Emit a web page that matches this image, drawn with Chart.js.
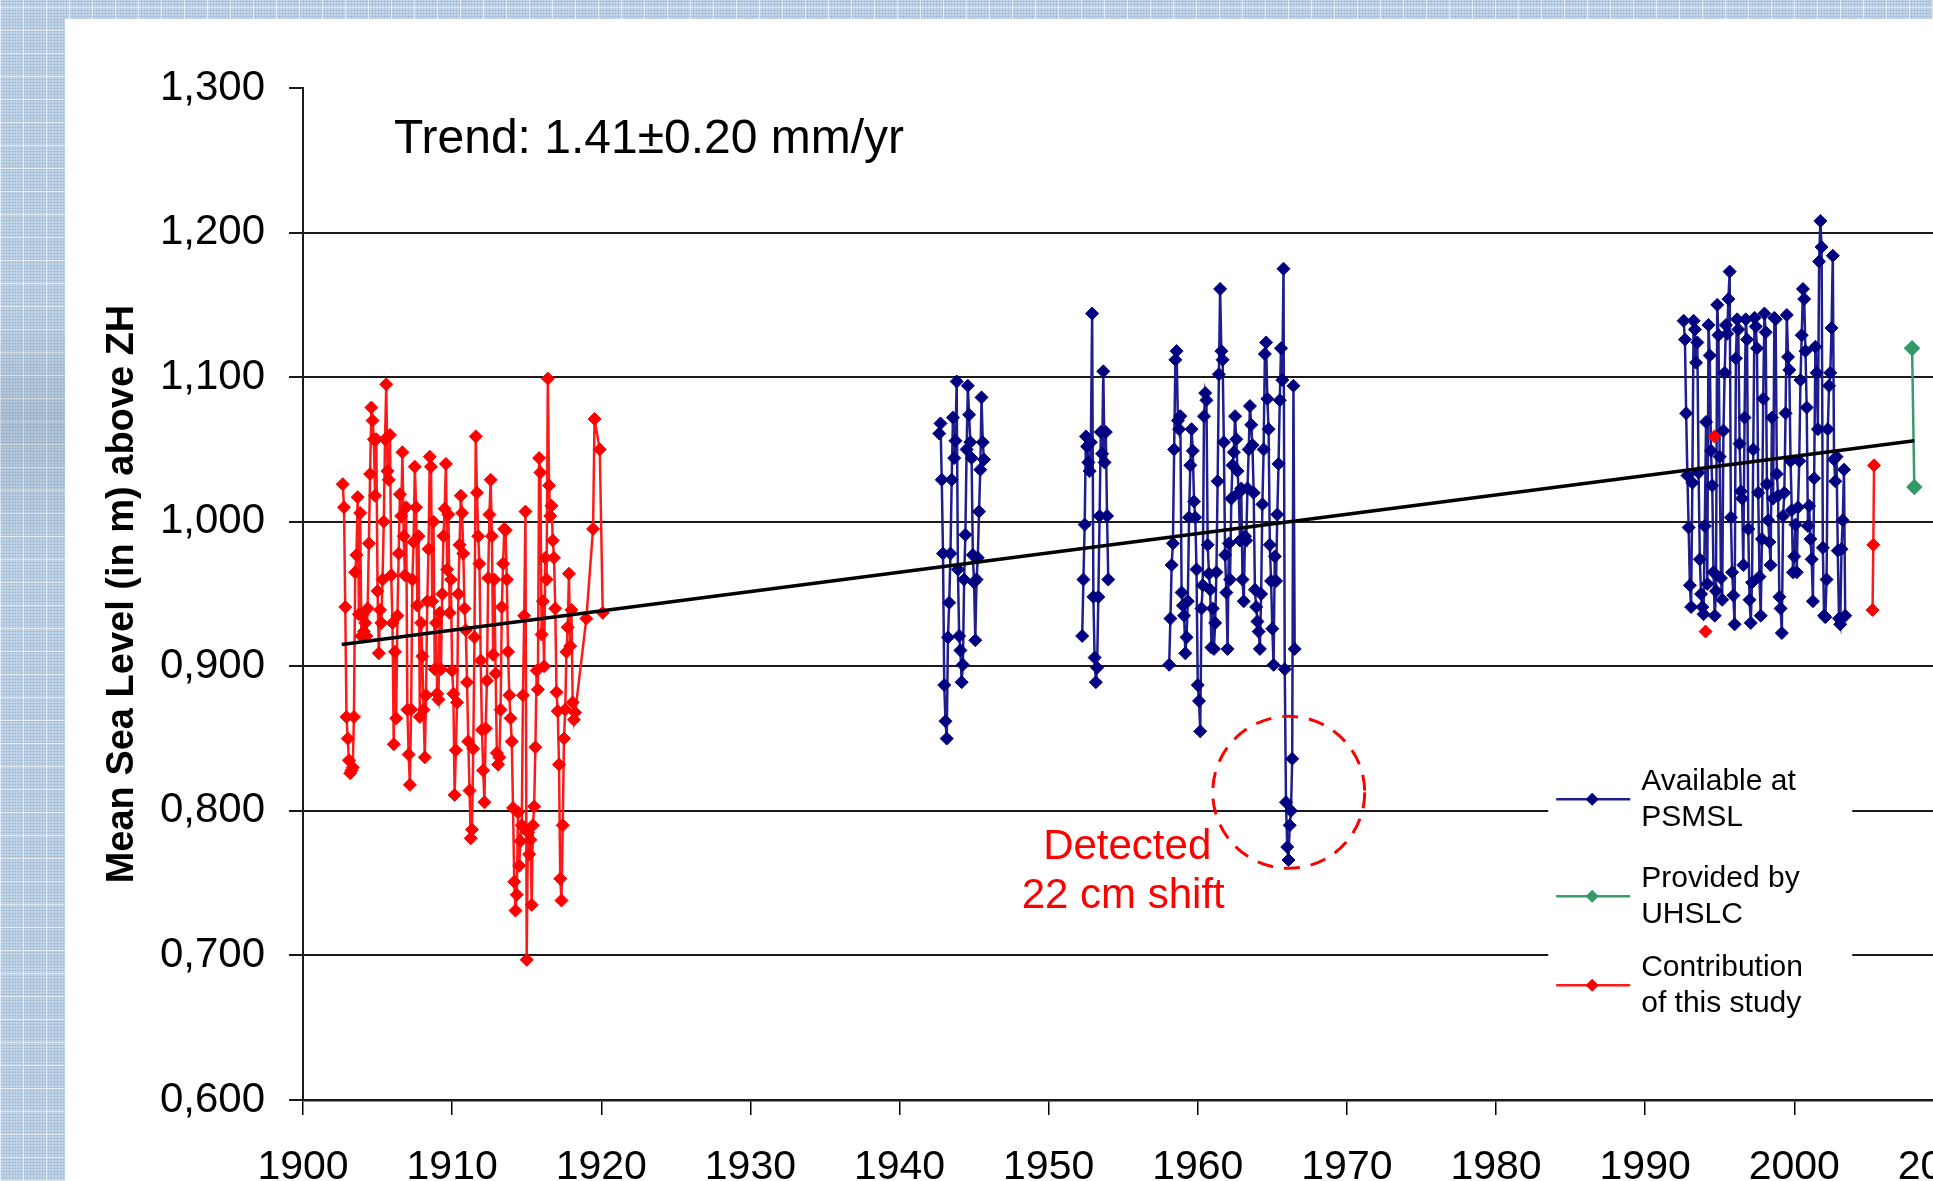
<!DOCTYPE html>
<html>
<head>
<meta charset="utf-8">
<title>Mean Sea Level above ZH</title>
<script src="https://cdn.jsdelivr.net/npm/chart.js@4.4.1/dist/chart.umd.min.js"></script>
<style>
  html, body { margin: 0; padding: 0; }
  body {
    width: 1933px; height: 1181px; overflow: hidden; position: relative;
    background-color: #c2d6e9;
    background-image:
      linear-gradient(180deg, rgba(0,0,0,0) 300px, rgba(110,130,150,0.22) 420px, rgba(0,0,0,0) 560px),
      repeating-linear-gradient(90deg, rgba(255,255,255,0.6) 0 1px, rgba(0,0,0,0) 1px 23px),
      repeating-linear-gradient(0deg, rgba(255,255,255,0.6) 0 1px, rgba(0,0,0,0) 1px 23px),
      repeating-linear-gradient(90deg, rgba(90,120,160,0.16) 0 1px, rgba(0,0,0,0) 1px 3px),
      repeating-linear-gradient(0deg, rgba(90,120,160,0.16) 0 1px, rgba(0,0,0,0) 1px 3px);
  }
  #panel { position: absolute; left: 65px; top: 19px; right: 0; bottom: 0; background: #fff; }
  #chart { position: absolute; left: 0; top: 0; }
</style>
</head>
<body>
<div id="panel"></div>
<canvas id="chart" width="2017" height="1181"></canvas>
<script>
// monthly values, in m above ZH
const redAStart = 1902 + 8 / 12; // Sep 1902
const redA = [
  1.026, 1.010, 0.941, 0.865,
  0.850, 0.835, 0.826, 0.828, 0.830, 0.865, 0.965, 0.977, 1.017, 0.936, 1.006, 0.921,
  0.936, 0.924, 0.930, 0.921, 0.940, 0.985, 1.033, 1.079, 1.070, 1.057, 1.018, 1.057,
  0.952, 0.909, 0.939, 0.930, 0.960, 1.000, 1.057, 1.095, 1.035, 1.029, 1.060, 0.963,
  0.930, 0.846, 0.910, 0.864, 0.935, 0.978, 1.019, 1.004, 1.048, 0.990, 0.963, 1.010,
  0.870, 0.839, 0.818, 0.870, 0.960, 0.986, 1.038, 1.010, 0.942, 0.990, 0.865, 0.930,
  0.907, 0.870, 0.837, 0.880, 0.945, 0.981, 1.045, 1.038, 0.945, 1.000, 0.898, 0.930,
  0.881, 0.877, 0.937, 0.898, 0.950, 0.990, 1.009, 1.040, 0.967, 1.005, 0.937, 0.960,
  0.897, 0.881, 0.811, 0.842, 0.875, 0.950, 0.984, 1.018, 1.006, 0.978, 0.940, 0.925,
  0.889, 0.848, 0.814, 0.781, 0.787, 0.843, 0.920, 1.059, 1.020, 0.990, 0.971, 0.904,
  0.856, 0.828, 0.806, 0.857, 0.890, 0.961, 1.005, 1.029, 0.990, 0.908, 0.960, 0.895,
  0.840, 0.832, 0.837, 0.870, 0.941, 0.971, 0.995, 0.994, 0.960, 0.910, 0.880, 0.864,
  0.848, 0.802, 0.751, 0.731, 0.742, 0.799, 0.762, 0.779, 0.790, 0.880, 0.935, 1.007,
  0.697, 0.785, 0.770, 0.780, 0.735, 0.790, 0.803, 0.844, 0.897, 0.884, 1.044, 1.034,
  0.922, 0.945, 0.900, 0.975, 0.960, 1.099, 1.025, 1.004, 1.011, 0.987, 0.975, 0.940,
  0.882, 0.869, 0.832, 0.753, 0.738, 0.790, 0.850, 0.870, 0.910, 0.927, 0.964, 0.914,
  0.939, 0.875, 0.863, 0.868
];
const redBYears = [1919.0, 1919.45, 1919.55, 1919.9, 1920.1];
const redB = [0.933, 0.995, 1.071, 1.050, 0.937];
const red1994Years = [1994.05, 1994.65];
const red1994 = [0.924, 1.059];
const red2005Years = [2005.25, 2005.3, 2005.35];
const red2005 = [0.939, 0.984, 1.039];

const blueAStart = 1942 + 8 / 12; // Sep 1942
const blueA = [
  1.061, 1.068, 1.029, 0.978,
  0.887, 0.862, 0.850, 0.920, 0.944, 0.978, 1.029, 1.072, 1.044, 1.056, 1.097, 0.967,
  0.921, 0.911, 0.889, 0.901, 0.960, 0.991, 1.050, 1.094, 1.074, 1.055, 1.044, 0.977,
  0.958, 0.918, 0.960, 0.975, 1.007, 1.036, 1.086, 1.055, 1.043
];
const blueBStart = 1952 + 3 / 12; // Apr 1952
const blueB = [
  0.921, 0.960, 0.998, 1.059, 1.052, 1.041, 1.035, 1.055, 1.144,
  0.948, 0.906, 0.889, 0.899, 0.948, 1.004, 1.062, 1.047, 1.104, 1.041, 1.062, 1.004,
  0.960
];
const blueCStart = 1958 + 1 / 12; // Feb 1958
const blueC = [
  0.901, 0.933, 0.970, 0.985, 1.050, 1.112, 1.118, 1.070, 1.064, 1.073, 0.951,
  0.942, 0.935, 0.909, 0.920, 0.945, 1.003, 1.039, 1.064, 1.049, 1.014, 1.003, 0.967,
  0.887, 0.876, 0.855, 0.940, 0.956, 1.073, 1.089, 1.084, 0.984, 0.964, 0.953, 0.913,
  0.940, 0.912, 0.930, 0.965, 1.028, 1.102, 1.161, 1.118, 1.112, 1.055, 0.977, 0.951,
  0.912, 0.985, 0.960, 1.016, 1.039, 1.048, 1.073, 1.057, 1.035, 1.020, 0.987, 1.023,
  0.960, 0.945, 0.990, 0.987, 1.023, 1.050, 1.080, 1.067, 1.053, 1.020, 0.953, 0.941,
  0.931, 0.924, 0.912, 0.950, 1.012, 1.050, 1.116, 1.124, 1.085, 1.064, 0.984, 0.959,
  0.926, 0.901, 0.976, 0.959, 1.005, 1.040, 1.084, 1.120, 1.098, 1.175, 0.898, 0.806,
  0.775, 0.766, 0.790, 0.800, 0.836, 1.094, 0.912
];
const blueDStart = 1992 + 7 / 12; // Aug 1992
const blueD = [
  1.139, 1.126, 1.075, 1.032, 0.996,
  0.956, 0.941, 1.027, 1.139, 1.133, 1.110, 1.124, 1.034, 0.974, 0.950, 0.941, 0.936,
  0.997, 1.069, 0.957, 1.136, 1.115, 1.049, 1.025, 0.965, 0.935, 0.952, 1.150, 1.129,
  1.045, 0.961, 0.946, 1.063, 1.103, 1.136, 1.130, 1.154, 1.173, 1.003, 0.965, 0.949,
  0.929, 1.113, 1.140, 1.133, 1.054, 1.021, 1.016, 0.970, 1.072, 1.140, 1.126, 0.995,
  0.946, 0.930, 0.958, 1.050, 1.141, 1.135, 1.120, 1.020, 0.962, 0.935, 0.988, 1.085,
  1.144, 1.131, 1.026, 1.001, 0.986, 0.970, 1.072, 1.016, 1.141, 1.140, 1.033, 1.018,
  0.948, 0.940, 0.923, 1.004, 1.020, 1.075, 1.143, 1.114, 1.105, 1.042, 1.008, 0.965,
  0.976, 0.998, 0.965, 1.010, 1.042, 1.098, 1.129, 1.161, 1.154, 1.118, 1.079, 0.997,
  1.011, 0.988, 0.974, 0.945, 1.030, 1.121, 1.103, 1.064, 1.180, 1.208, 1.190, 0.982,
  0.935, 0.934, 0.960, 1.064, 1.094, 1.103, 1.134, 1.184, 1.043, 1.028, 1.045, 0.980,
  0.933, 0.929, 0.981, 1.001, 1.036, 0.935
];

const greenYears = [2007.9, 2008.05];
const green = [1.120, 1.024];

const trendYears = [1902.6, 2008.05];
const trend = [0.915, 1.056];

const trendLabel = 'Trend: 1.41\u00b10.20 mm/yr';
const shiftLabel = ['Detected', '22 cm shift'];
const legendBlue = ['Available at', 'PSMSL'];
const legendGreen = ['Provided by', 'UHSLC'];
const legendRed = ['Contribution', 'of this study'];

const FONT = '"Liberation Sans", Arial, Helvetica, sans-serif';
Chart.defaults.font.family = FONT;
Chart.defaults.color = '#000';

function monthly(start, values) {
  return values.map((v, i) => ({ x: start + i / 12, y: v }));
}
function pairs(xs, ys) {
  return xs.map((x, i) => ({ x: x, y: ys[i] }));
}
// joins segments, breaking the line between them
function withGaps(...segs) {
  const out = [];
  segs.forEach((s, i) => {
    if (i > 0) out.push({ x: (out[out.length - 1].x + s[0].x) / 2, y: null });
    out.push(...s);
  });
  return out;
}

const redData = withGaps(
  monthly(redAStart, redA).concat(pairs(redBYears, redB)),
  pairs(red1994Years.slice(0, 1), red1994.slice(0, 1)),
  pairs(red1994Years.slice(1), red1994.slice(1)),
  pairs(red2005Years, red2005)
);
const blueData = withGaps(
  monthly(blueAStart, blueA),
  monthly(blueBStart, blueB),
  monthly(blueCStart, blueC),
  monthly(blueDStart, blueD)
);

const overlay = {
  id: 'overlay',
  afterDraw(chart) {
    const { ctx, scales: { x, y } } = chart;
    ctx.save();
    // trend text
    ctx.fillStyle = '#000';
    ctx.font = '48px ' + FONT;
    ctx.textAlign = 'left';
    ctx.textBaseline = 'alphabetic';
    ctx.fillText(trendLabel, x.getPixelForValue(1906.1), y.getPixelForValue(1.255));

    // shift note + circle
    ctx.fillStyle = '#ff0000';
    ctx.font = '42px ' + FONT;
    ctx.textAlign = 'center';
    const cx = x.getPixelForValue(1955.0);
    ctx.fillText(shiftLabel[0], cx + 4, y.getPixelForValue(0.767));
    ctx.fillText(shiftLabel[1], cx, y.getPixelForValue(0.733));
    ctx.strokeStyle = '#ff0000';
    ctx.lineWidth = 3;
    ctx.setLineDash([16, 11]);
    ctx.beginPath();
    ctx.arc(x.getPixelForValue(1966.1), y.getPixelForValue(0.8128), 76, 0, Math.PI * 2);
    ctx.stroke();
    ctx.setLineDash([]);

    // legend
    const lx = x.getPixelForValue(1983.5), ly = y.getPixelForValue(0.837);
    ctx.fillStyle = '#fff';
    ctx.fillRect(lx, ly, 304, 275);
    const rows = [42, 139, 228];
    chart.data.datasets.filter(d => d.legendText).forEach((d, i) => {
      const ry = ly + rows[i];
      ctx.strokeStyle = d.borderColor;
      ctx.lineWidth = 2.5;
      ctx.beginPath();
      ctx.moveTo(lx + 8, ry);
      ctx.lineTo(lx + 82, ry);
      ctx.stroke();
      ctx.fillStyle = d.pointBackgroundColor;
      ctx.beginPath();
      ctx.moveTo(lx + 44, ry - 6.5);
      ctx.lineTo(lx + 50.5, ry);
      ctx.lineTo(lx + 44, ry + 6.5);
      ctx.lineTo(lx + 37.5, ry);
      ctx.closePath();
      ctx.fill();
      ctx.fillStyle = '#000';
      ctx.font = '30px ' + FONT;
      ctx.textAlign = 'left';
      ctx.textBaseline = 'middle';
      ctx.fillText(d.legendText[0], lx + 93, ry - 18);
      ctx.fillText(d.legendText[1], lx + 93, ry + 18);
    });
    ctx.restore();
  }
};

new Chart(document.getElementById('chart'), {
  type: 'line',
  data: {
    datasets: [
      {
        label: 'Trend',
        data: pairs(trendYears, trend),
        borderColor: '#000',
        borderWidth: 3.5,
        pointRadius: 0,
        order: 0
      },
      {
        label: 'Contribution of this study',
        legendText: legendRed,
        data: redData,
        borderColor: '#ff1a1a',
        borderWidth: 2.5,
        pointStyle: 'rectRot',
        pointRadius: 6.5,
        pointBackgroundColor: '#ff0000',
        pointBorderColor: '#ff0000',
        pointBorderWidth: 1,
        spanGaps: false,
        order: 1
      },
      {
        label: 'Provided by UHSLC',
        legendText: legendGreen,
        data: pairs(greenYears, green),
        borderColor: '#3a9a6a',
        borderWidth: 2.5,
        pointStyle: 'rectRot',
        pointRadius: 6.5,
        pointBackgroundColor: '#339966',
        pointBorderColor: '#339966',
        order: 2
      },
      {
        label: 'Available at PSMSL',
        legendText: legendBlue,
        data: blueData,
        borderColor: '#1e1e8e',
        borderWidth: 2.5,
        pointStyle: 'rectRot',
        pointRadius: 6.5,
        pointBackgroundColor: '#000080',
        pointBorderColor: '#000080',
        pointBorderWidth: 1,
        spanGaps: false,
        order: 3
      }
    ].sort((a, b) => (a.legendText ? 0 : 1) - (b.legendText ? 0 : 1)).reverse()
  },
  options: {
    responsive: false,
    animation: false,
    events: [],
    layout: { padding: { left: 0, top: 88, right: 58, bottom: 0 } },
    plugins: { legend: { display: false }, tooltip: { enabled: false } },
    scales: {
      x: {
        type: 'linear',
        min: 1900,
        max: 2010,
        afterFit: s => { s.height = 81; },
        ticks: { stepSize: 10, padding: 28, font: { size: 41 }, color: '#000', maxRotation: 0,
          callback: v => v.toFixed(0) },
        grid: { drawOnChartArea: false, tickLength: 15, color: '#000', lineWidth: 1.5 },
        border: { color: '#1a1a1a', width: 2.5 }
      },
      y: {
        min: 0.6,
        max: 1.3,
        afterFit: s => { s.width = 303; },
        ticks: { stepSize: 0.1, padding: 24, font: { size: 42 }, color: '#000',
          callback: v => v.toFixed(3).replace('.', ',') },
        grid: {
          tickLength: 14,
          lineWidth: 2,
          color: c => (c.tick && Math.abs(c.tick.value - 1.3) < 1e-6) ? 'rgba(0,0,0,0)' : '#1a1a1a',
          tickColor: '#1a1a1a'
        },
        border: { color: '#1a1a1a', width: 2 },
        title: {
          display: true,
          text: 'Mean Sea Level (in m) above ZH',
          font: { size: 38, weight: 'bold' },
          color: '#000',
          padding: { top: 100, bottom: 0 }
        }
      }
    }
  },
  plugins: [overlay]
});
</script>
</body>
</html>
